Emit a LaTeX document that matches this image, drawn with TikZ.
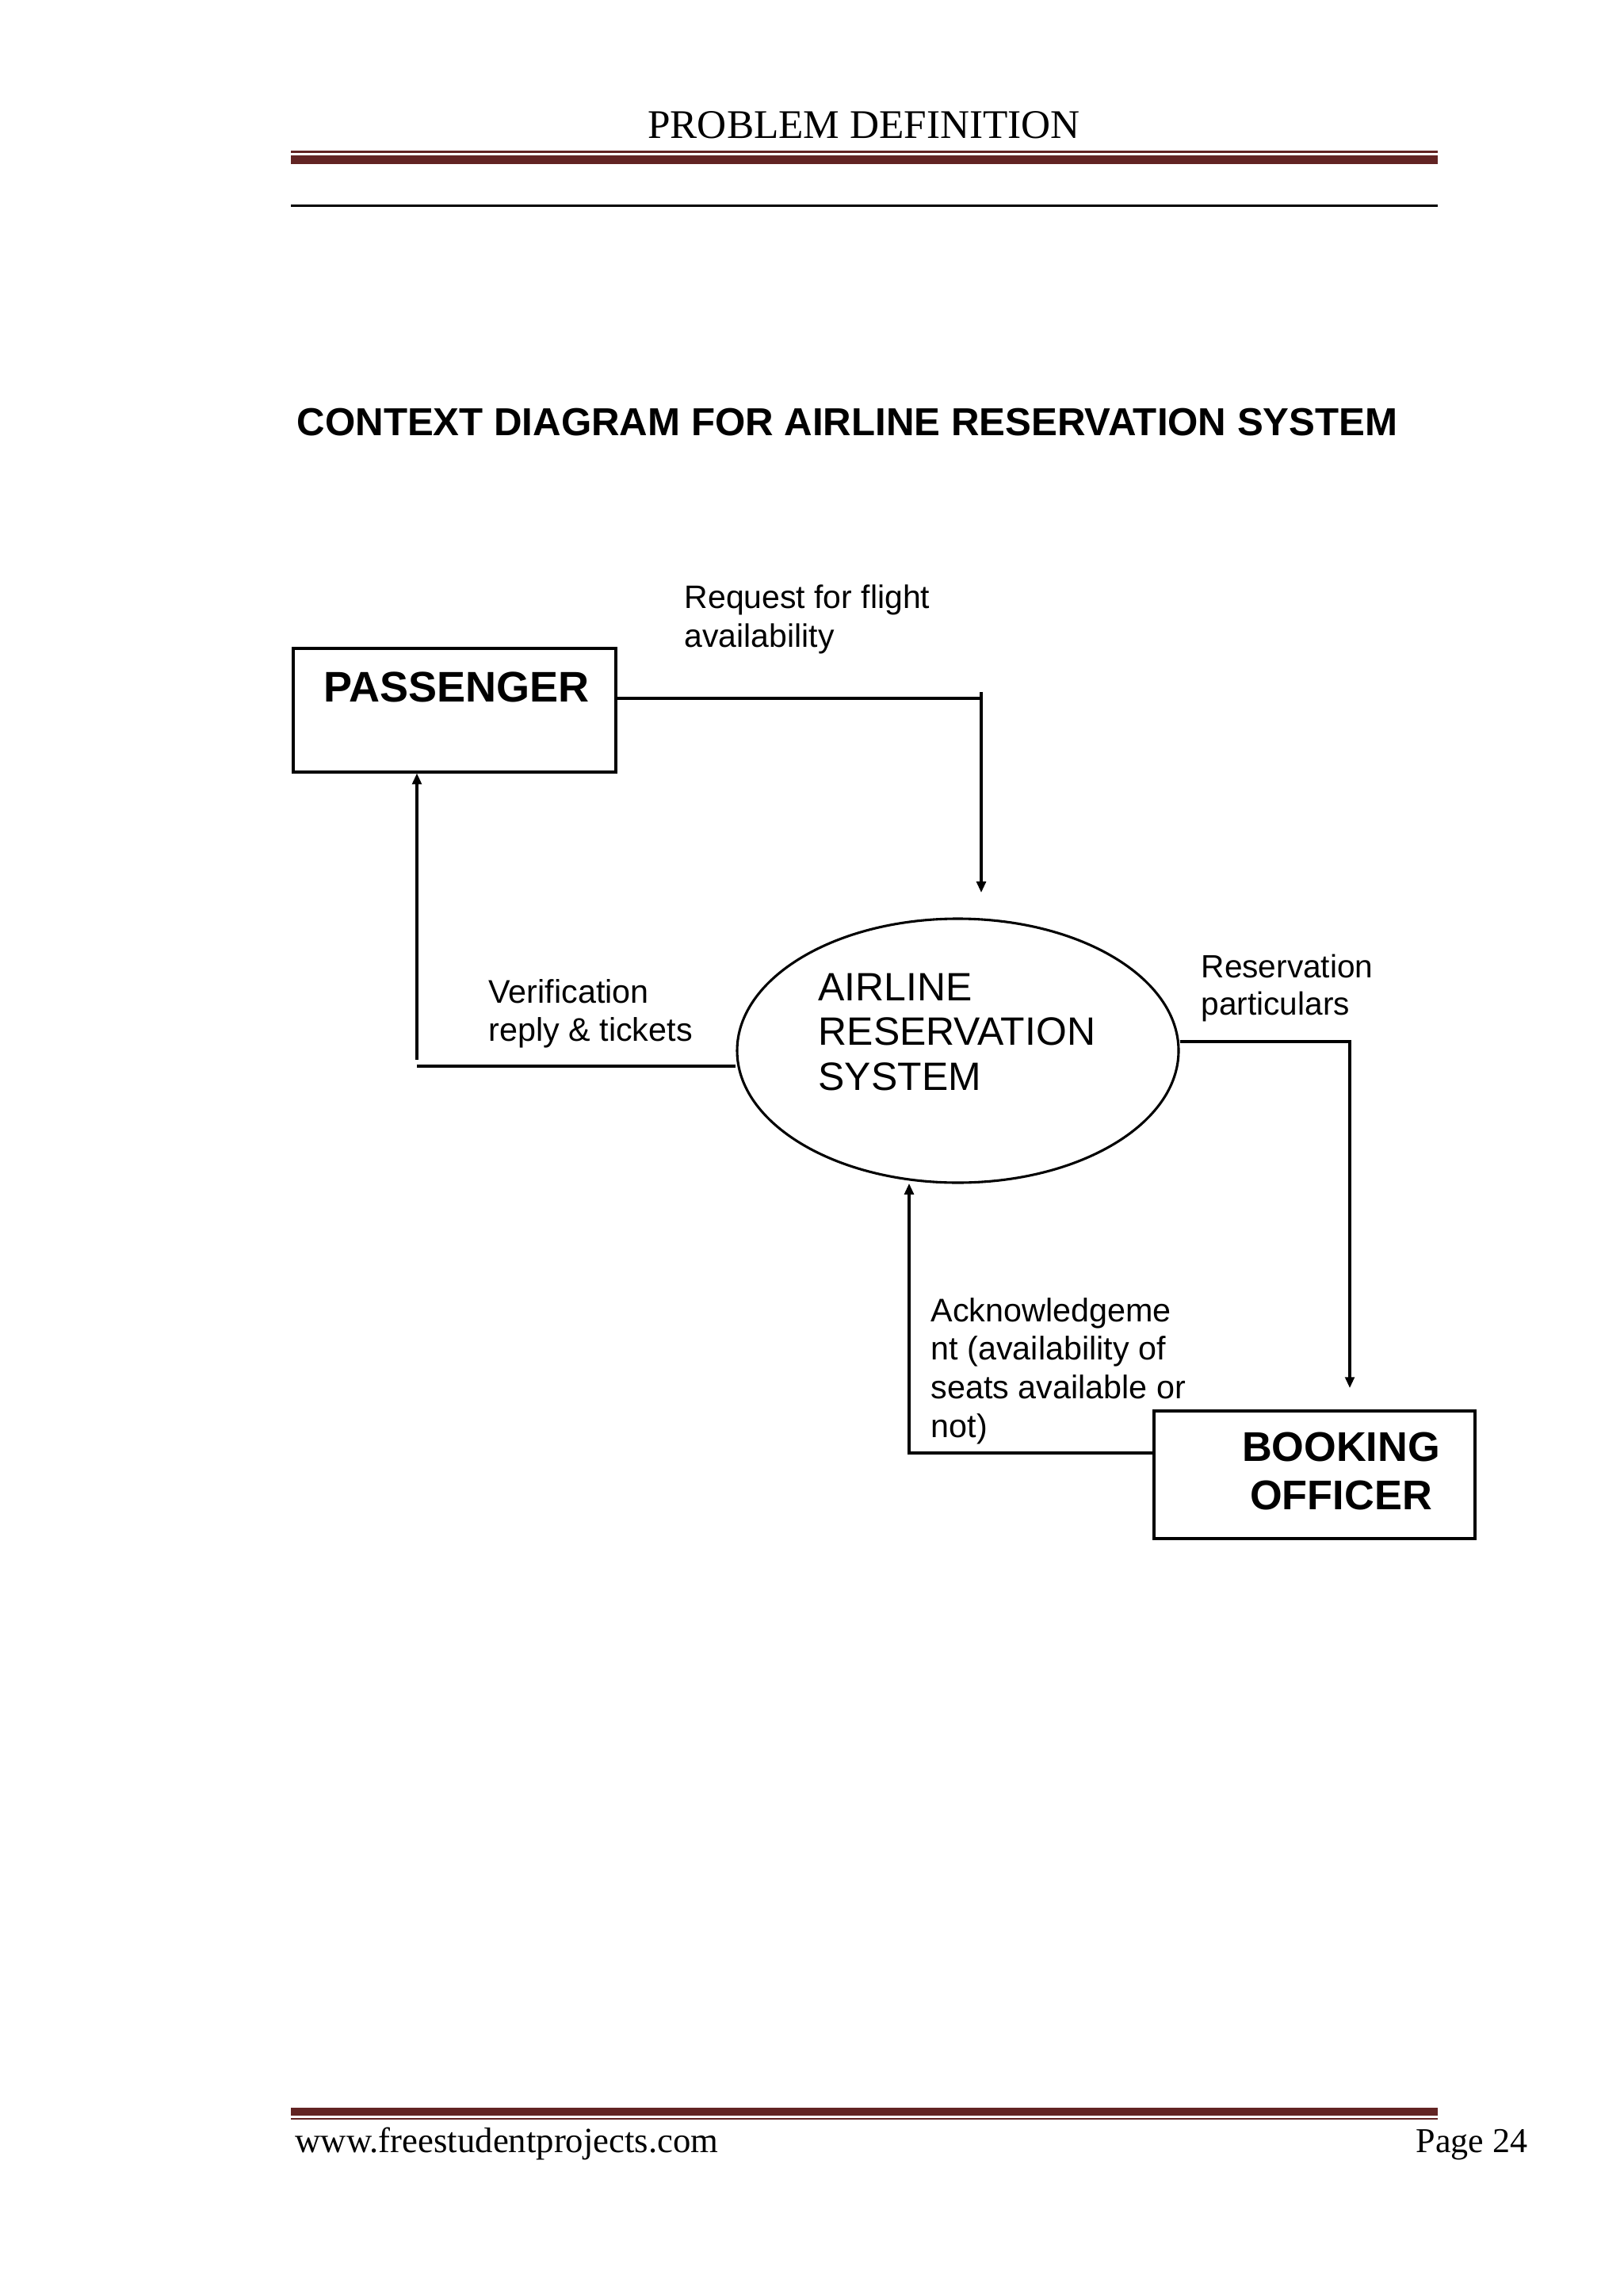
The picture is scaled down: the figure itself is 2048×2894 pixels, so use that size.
\documentclass[tikz,border=0pt]{standalone}
\usepackage{fontspec}
\setmainfont{Liberation Serif}
\newfontfamily\arial{Liberation Sans}
\usetikzlibrary{arrows.meta,shapes.geometric}
\definecolor{hdrred}{HTML}{622423}
\newcommand\pxu[1]{#1*0.2906pt}
\begin{document}
\begin{tikzpicture}[x=0.2906pt,y=-0.2906pt,
  conn/.style={line width=0.9pt, draw=black},
  arr/.style={conn,-{Triangle[length=4pt,width=3.4pt]}},
  entity/.style={draw=black, line width=0.9pt, rectangle, inner sep=0pt},
  process/.style={draw=black, line width=0.9pt, ellipse, inner sep=0pt},
  entitytext/.style={inner sep=0pt, anchor=base, font=\arial\bfseries\fontsize{15.2}{18}\selectfont},
  lbl/.style={inner sep=0pt, anchor=base west},
  redrule/.style={draw=hdrred},
]
% page
\fill[white] (0,0) rectangle (2048,2894);

% header
\node[inner sep=0pt, anchor=base, font=\fontsize{14.9}{18}\selectfont] (hdr) at (1090,175) {PROBLEM DEFINITION};
\draw[redrule, line width=0.87pt] (367,191.5) -- (1814,191.5);
\draw[redrule, line width=3.2pt] (367,201.5) -- (1814,201.5);
\draw[black, line width=1pt] (367,259.5) -- (1814,259.5);

% title
\node[lbl, font=\arial\bfseries\fontsize{14.3}{17}\selectfont] (title) at (374,550) {CONTEXT DIAGRAM FOR AIRLINE RESERVATION SYSTEM};

% entities
\node[entity, minimum width={\pxu{407}}, minimum height={\pxu{156}}] (pass) at (573.5,896) {};
\node[entitytext, font=\arial\bfseries\fontsize{15.7}{18}\selectfont] (passtext) at (576,885) {PASSENGER};

\node[entity, minimum width={\pxu{405}}, minimum height={\pxu{161}}] (book) at (1658.5,1860.5) {};
\node[entitytext] (booktext) at (1692,1843) {\begin{tabular}[t]{@{}c@{}}BOOKING\\OFFICER\end{tabular}};

% process
\node[process, minimum width={\pxu{557}}, minimum height={\pxu{333}}] (ars) at (1208.5,1325.5) {};
\node[lbl, font=\arial\fontsize{14.5}{16.5}\selectfont] (arstext) at (1032,1262) {\begin{tabular}[t]{@{}l@{}}AIRLINE\\RESERVATION\\SYSTEM\end{tabular}};

% labels
\node[lbl, font=\arial\fontsize{11.9}{14.2}\selectfont] (reqlbl) at (863,768) {\begin{tabular}[t]{@{}l@{}}Request for flight\\availability\end{tabular}};
\node[lbl, font=\arial\fontsize{12}{14}\selectfont] (verlbl) at (616,1265) {\begin{tabular}[t]{@{}l@{}}Verification\\reply \& tickets\end{tabular}};
\node[lbl, font=\arial\fontsize{11.8}{13.8}\selectfont] (reslbl) at (1515,1233) {\begin{tabular}[t]{@{}l@{}}Reservation\\particulars\end{tabular}};
\node[lbl, font=\arial\fontsize{12}{14.2}\selectfont] (acklbl) at (1174,1667) {\begin{tabular}[t]{@{}l@{}}Acknowledgeme\\nt (availability of\\seats available or\\not)\end{tabular}};

% connector coordinates
\coordinate (reqturn) at (1238,881);
\coordinate (reqtop) at (1238,873);
\coordinate (reqtip) at (1238,1126);
\coordinate (verturn) at (526,1345);
\coordinate (vertop) at (526,1337);
\coordinate (resturn) at (1703,1314);
\coordinate (restip) at (1703,1751);
\coordinate (ackturn) at (1147,1833);
\coordinate (acktip) at (1147,1493);

% connectors
\draw[conn] (pass.east |- reqturn) -- (reqturn);
\draw[arr] (reqtop) -- (reqtip);

\draw[conn] (ars.west |- verturn) -- (verturn);
\draw[arr] (vertop) -- (pass.south -| vertop);

\draw[arr] (ars.east |- resturn) -- (resturn) -- (restip);

\draw[arr] (book.west |- ackturn) -- (ackturn) -- (acktip);

% footer
\draw[redrule, line width=2.9pt] (367,2664) -- (1814,2664);
\draw[redrule, line width=0.75pt] (367,2673) -- (1814,2673);
\node[lbl, font=\fontsize{13}{15}\selectfont] (site) at (372,2715) {www.freestudentprojects.com};
\node[inner sep=0pt, anchor=base east, font=\fontsize{12.8}{15}\selectfont] (page) at (1928,2715) {Page 24};
\end{tikzpicture}
\end{document}
